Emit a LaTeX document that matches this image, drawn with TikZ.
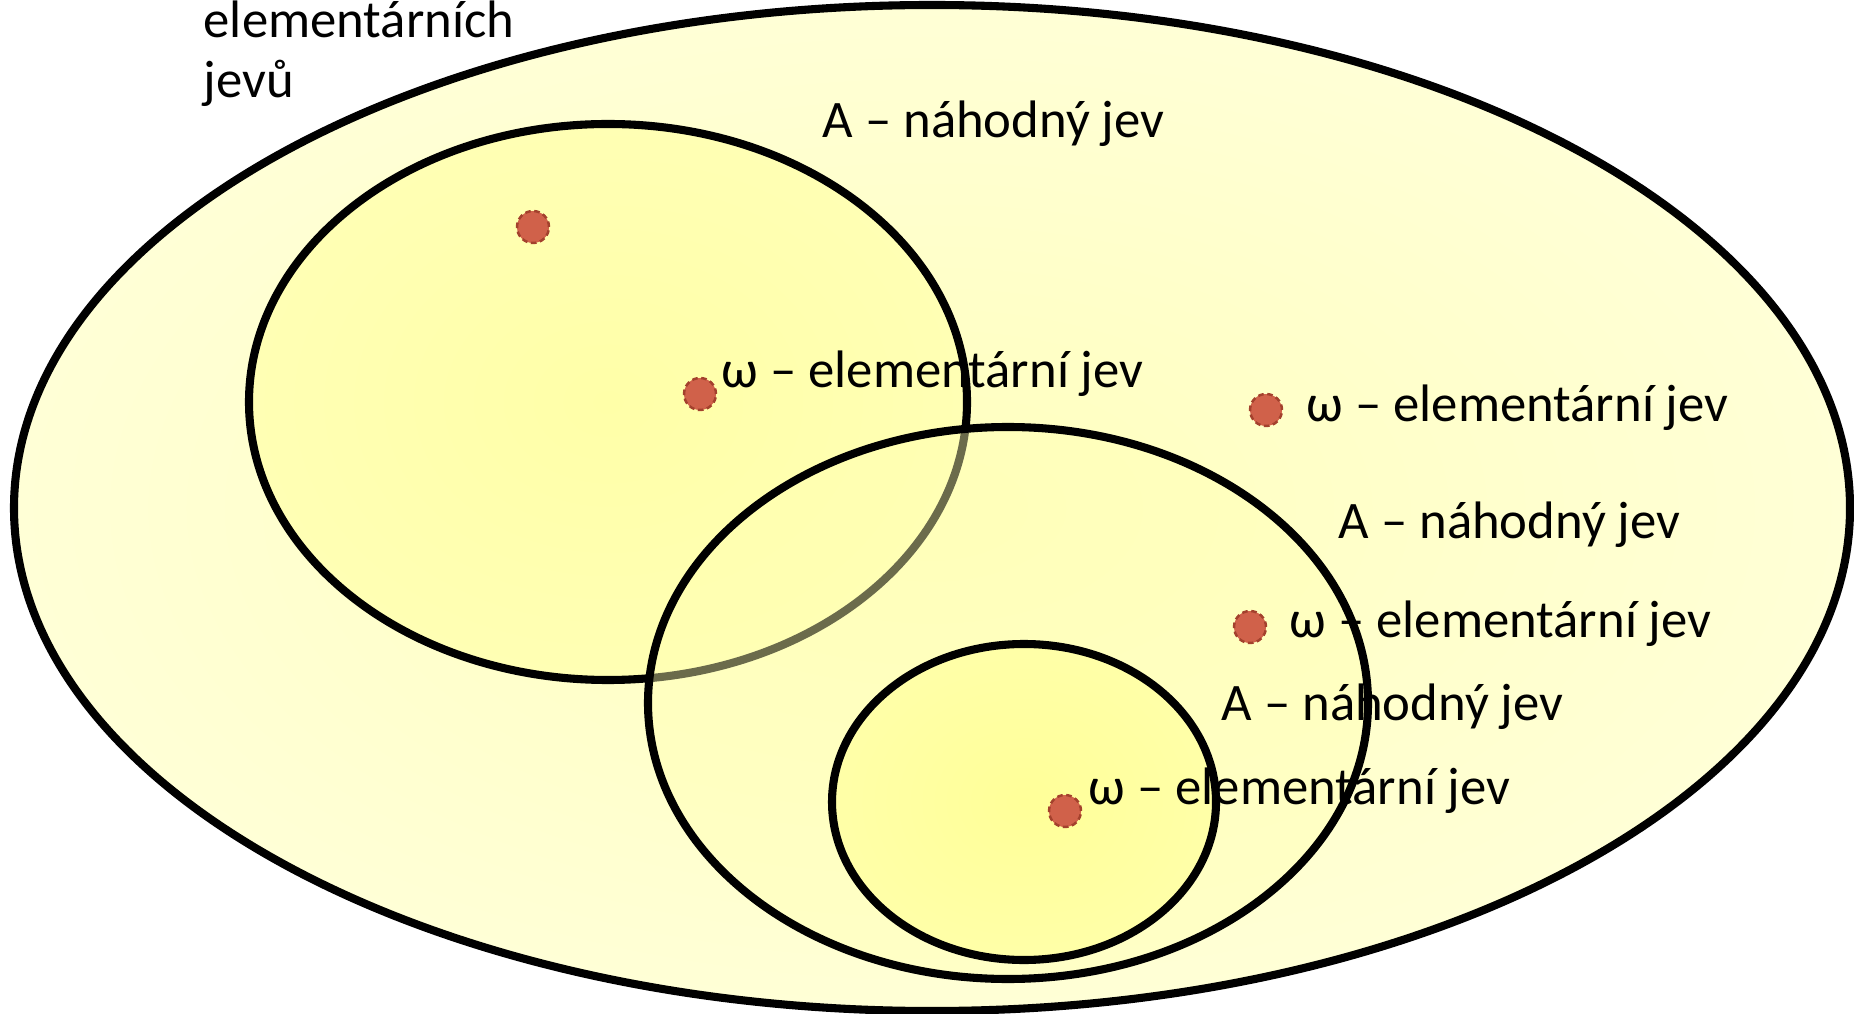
\documentclass[tikz,border=0pt]{standalone}
\usepackage{fontspec}
\setmainfont{Carlito}
\usetikzlibrary{positioning}
\definecolor{yelout}{HTML}{FFFFD6}
\definecolor{yelin}{HTML}{FFFFBE}
\definecolor{yelA}{HTML}{FFFFA8}
\definecolor{yelB}{HTML}{FFFFB4}
\definecolor{yelC}{HTML}{FFFF98}
\definecolor{dotred}{HTML}{D0614A}
\definecolor{dotrim}{HTML}{A3412D}

\begin{document}
\begin{tikzpicture}[x=1cm,y=1cm,
  setrim/.style={line width=2.3pt},
  elem/.style={circle,fill=dotred,draw=dotrim,dashed,dash pattern=on 1.6pt off 1pt,line width=.7pt,minimum size=.32cm,inner sep=0},
  lbl/.style={anchor=base west,inner sep=0,font=\fontsize{15pt}{17.2pt}\selectfont}]
\useasboundingbox (0,0) rectangle (18.54,10.13);
% sample space
\shade[inner color=yelin,outer color=yelout] (9.32,5.05) ellipse [x radius=9.18,y radius=5.03];
\draw[setrim] (9.32,5.05) ellipse [x radius=9.18,y radius=5.03];
% events
\shade[inner color=yelA,outer color=yelB] (6.08,6.11) ellipse [x radius=3.59,y radius=2.78];
\draw[setrim] (6.08,6.11) ellipse [x radius=3.59,y radius=2.78];
\fill[yelB,fill opacity=.42] (10.08,3.10) ellipse [x radius=3.60,y radius=2.76];
\draw[setrim] (10.08,3.10) ellipse [x radius=3.60,y radius=2.76];
\shade[inner color=yelC,outer color=yelA] (10.24,2.11) ellipse [x radius=1.92,y radius=1.58];
\draw[setrim] (10.24,2.11) ellipse [x radius=1.92,y radius=1.58];
% elementary events
\node[elem] (w0) at (5.33,7.86){};
\node[elem] (w1) at (7.00,6.19){};
\node[elem] (w2) at (12.66,6.03){};
\node[elem] (w3) at (12.50,3.86){};
\node[elem] (w4) at (10.65,2.02){};
\node[lbl,align=left] (omega) at (2.03,9.15){elementárních\\jevů};
\node[lbl] (eventA1) at (8.22,8.75){A – náhodný jev};
\node[lbl] (eventA2) at (13.38,4.75){A – náhodný jev};
\node[lbl] (eventA3) at (12.21,2.93){A – náhodný jev};
\node[lbl] (lw1) at (7.21,6.25){ω – elementární jev};
\node[lbl] (lw2) at (13.06,5.91){ω – elementární jev};
\node[lbl] (lw3) at (12.89,3.75){ω – elementární jev};
\node[lbl] (lw4) at (10.88,2.09){ω – elementární jev};
\end{tikzpicture}
\end{document}
